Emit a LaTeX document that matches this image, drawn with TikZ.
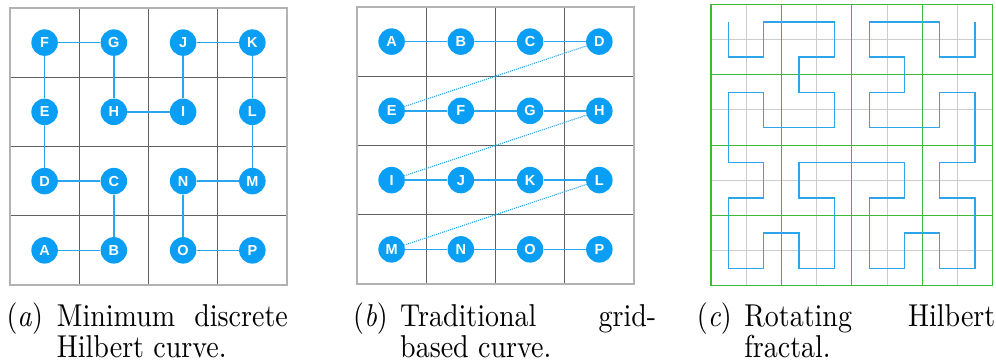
\documentclass[tikz,border=0pt]{standalone}
\usepackage{graphicx}
\usepackage{fontspec}
\setmainfont{lmroman10-regular.otf}[ItalicFont=lmroman10-italic.otf]
\newfontfamily\ptfont{Liberation Sans}
\usepackage{tikz}
\usetikzlibrary{positioning,arrows.meta,calc}
\usepackage{xcolor}
\definecolor{ptblue}{HTML}{0A9FF5}
\definecolor{linkblue}{HTML}{28A7EE}
\definecolor{gridgreen}{HTML}{3DBA35}
\definecolor{curveblue}{HTML}{2DA5E8}

\begin{document}
\begin{tikzpicture}[x=1pt, y=-1pt,
    cell/.style={line width=1pt, black!62},
    frame/.style={line width=1.3pt, black!30},
    pt/.style={circle, fill=ptblue, text=white, minimum size=26.5pt, inner sep=0pt, font=\ptfont\bfseries\fontsize{14.5}{14.5}\selectfont},
    link/.style={line width=1.6pt, linkblue},
    jump/.style={line width=1.1pt, linkblue, densely dotted},
    fine/.style={line width=1pt, black!20},
    coarse/.style={line width=1.1pt, gridgreen},
    hilbert/.style={line width=1.3pt, curveblue, line join=miter},
    subcap/.style={inner sep=0pt, font=\fontsize{28}{27.3}\selectfont}]
    \useasboundingbox (0,0) rectangle (996,364);

    % (a) Minimum discrete Hilbert curve
    \begin{scope}[shift={(10,8)}, x=69.25pt, y=-69.25pt]
        \foreach \i in {1,2,3} {
            \draw[cell] (\i,0) -- (\i,4);
            \draw[cell] (0,\i) -- (4,\i);
        }
        \draw[frame] (0,0) rectangle (4,4);
    \end{scope}
    \begin{scope}[shift={(44.6,42.6)}, x=69.25pt, y=-69.25pt]
        \foreach \n/\c/\r in {F/0/0, G/1/0, J/2/0, K/3/0, E/0/1, H/1/1, I/2/1, L/3/1,
                              D/0/2, C/1/2, N/2/2, M/3/2, A/0/3, B/1/3, O/2/3, P/3/3}
            \node[pt] (a\n) at (\c,\r) {\n};
        \foreach \u/\v in {A/B, B/C, C/D, D/E, E/F, F/G, G/H, H/I, I/J, J/K, K/L, L/M, M/N, N/O, O/P}
            \draw[link] (a\u) -- (a\v);
    \end{scope}

    % (b) Traditional grid-based curve
    \begin{scope}[shift={(357,7)}, x=69.25pt, y=-69.25pt]
        \foreach \i in {1,2,3} {
            \draw[cell] (\i,0) -- (\i,4);
            \draw[cell] (0,\i) -- (4,\i);
        }
        \draw[frame] (0,0) rectangle (4,4);
    \end{scope}
    \begin{scope}[shift={(391.6,41.6)}, x=69.25pt, y=-69.25pt]
        \foreach \n/\c/\r in {A/0/0, B/1/0, C/2/0, D/3/0, E/0/1, F/1/1, G/2/1, H/3/1,
                              I/0/2, J/1/2, K/2/2, L/3/2, M/0/3, N/1/3, O/2/3, P/3/3}
            \node[pt] (b\n) at (\c,\r) {\n};
        \foreach \u/\v in {A/B, B/C, C/D, E/F, F/G, G/H, I/J, J/K, K/L, M/N, N/O, O/P}
            \draw[link] (b\u) -- (b\v);
        \foreach \u/\v in {D/E, H/I, L/M}
            \draw[jump] (b\u) -- (b\v);
    \end{scope}

    % (c) Rotating Hilbert fractal
    \begin{scope}[shift={(711,4.3)}, x=35.2pt, y=-35.2pt]
        \foreach \i in {1,3,5,7} {
            \draw[fine] (\i,0) -- (\i,8);
            \draw[fine] (0,\i) -- (8,\i);
        }
        \foreach \i in {0,2,4,6,8} {
            \draw[coarse] (\i,0) -- (\i,8);
            \draw[coarse] (0,\i) -- (8,\i);
        }
    \end{scope}
    \begin{scope}[shift={(728.6,21.9)}, x=35.2pt, y=-35.2pt]
        \draw[hilbert] (0,0) -- (0,1) -- (1,1) -- (1,0) -- (3,0) -- (3,1) -- (2,1) -- (2,2)
            -- (3,2) -- (3,3) -- (1,3) -- (1,2) -- (0,2) -- (0,4) -- (1,4) -- (1,5)
            -- (0,5) -- (0,7) -- (1,7) -- (1,6) -- (2,6) -- (2,7) -- (3,7) -- (3,5)
            -- (2,5) -- (2,4) -- (5,4) -- (5,5) -- (4,5) -- (4,7) -- (5,7) -- (5,6)
            -- (6,6) -- (6,7) -- (7,7) -- (7,5) -- (6,5) -- (6,4) -- (7,4) -- (7,2)
            -- (6,2) -- (6,3) -- (4,3) -- (4,2) -- (5,2) -- (5,1) -- (4,1) -- (4,0)
            -- (6,0) -- (6,1) -- (7,1) -- (7,0);
    \end{scope}

    % Subfigure captions
    \tolerance=10000 \hbadness=10000 \hyphenpenalty=10000
    \node[subcap, anchor=base west] (capa) at (6.4,326.7)
        {\scalebox{1}[1.13]{\makebox[50.3pt][l]{(\textit{a})}\parbox[t]{231pt}{Minimum discrete Hilbert curve.}}};
    \node[subcap, anchor=base west] (capb) at (353,326.7)
        {\scalebox{1}[1.13]{\makebox[47pt][l]{(\textit{b})}\parbox[t]{256pt}{Traditional grid-based curve.}}};
    \node[subcap, anchor=base west] (capc) at (696.7,326.7)
        {\scalebox{1}[1.13]{\makebox[47.4pt][l]{(\textit{c})}\parbox[t]{251pt}{Rotating Hilbert fractal.}}};
\end{tikzpicture}
\end{document}
